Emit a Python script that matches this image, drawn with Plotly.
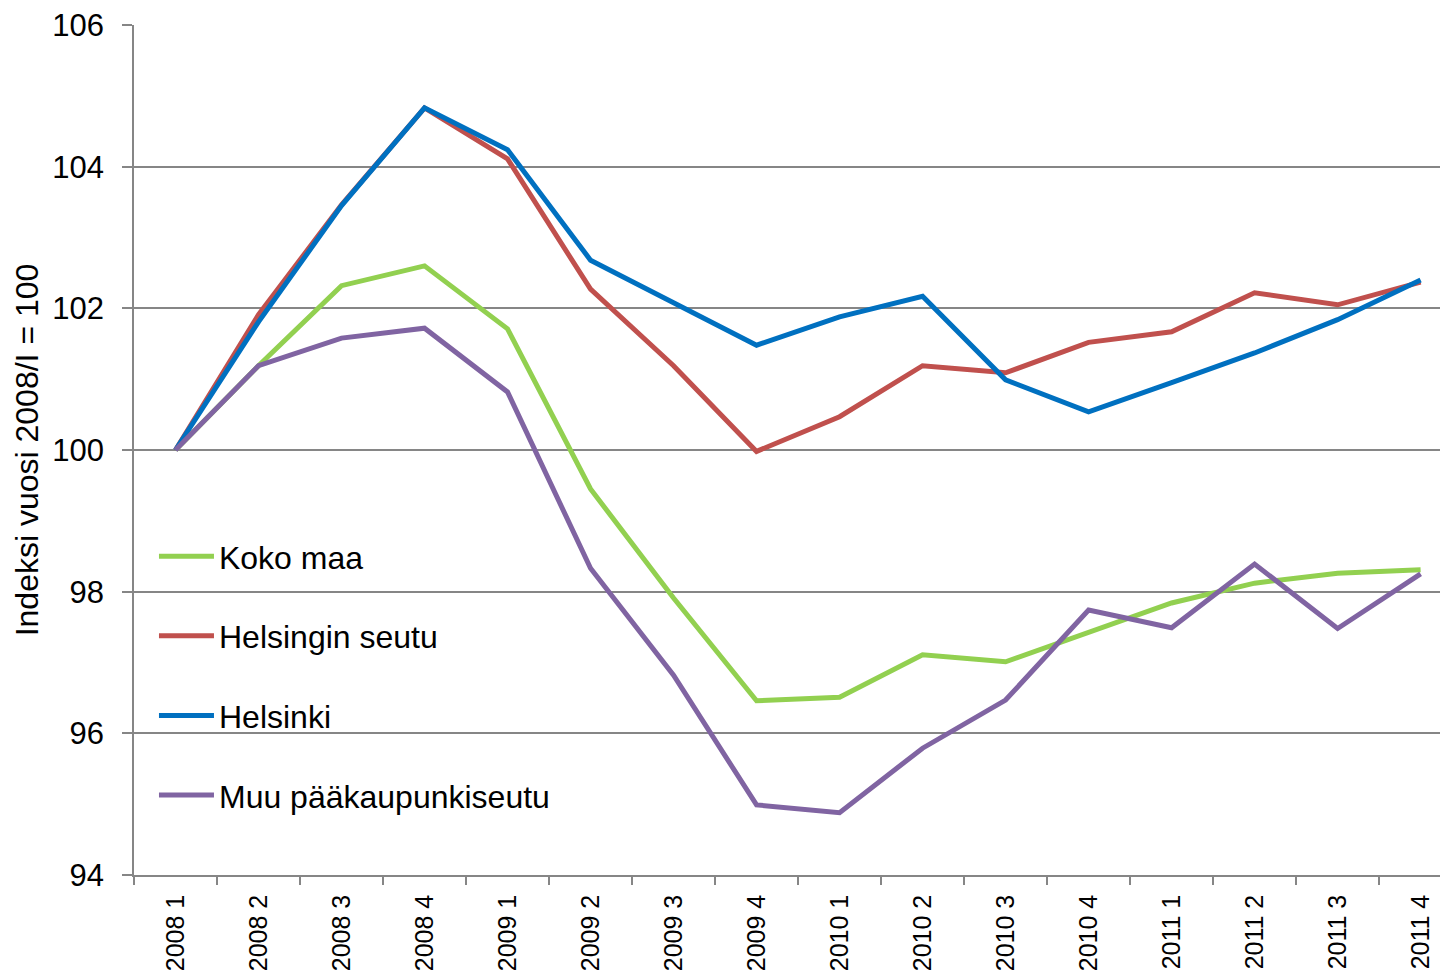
import plotly.graph_objects as go

quarters = ["2008 1", "2008 2", "2008 3", "2008 4", "2009 1", "2009 2", "2009 3", "2009 4",
            "2010 1", "2010 2", "2010 3", "2010 4", "2011 1", "2011 2", "2011 3", "2011 4"]

koko_maa = [100.0, 101.19, 102.32, 102.6, 101.71, 99.45, 97.91, 96.46,
            96.51, 97.11, 97.01, 97.42, 97.84, 98.12, 98.26, 98.31]
helsingin_seutu = [100.0, 101.91, 103.46, 104.83, 104.11, 102.27, 101.19, 99.98,
                   100.47, 101.19, 101.09, 101.52, 101.67, 102.22, 102.05, 102.37]
helsinki = [100.0, 101.81, 103.45, 104.83, 104.24, 102.68, 102.08, 101.48,
            101.88, 102.17, 100.99, 100.54, 100.95, 101.37, 101.84, 102.4]
muu_pks = [100.0, 101.19, 101.58, 101.72, 100.82, 98.33, 96.82, 94.99,
           94.88, 95.79, 96.47, 97.74, 97.49, 98.39, 97.48, 98.25]

series = [
    ("Koko maa", koko_maa, "#92D050"),
    ("Helsingin seutu", helsingin_seutu, "#C0504D"),
    ("Helsinki", helsinki, "#0070C0"),
    ("Muu pääkaupunkiseutu", muu_pks, "#8064A2"),
]

fig = go.Figure()
for i, (name, vals, color) in enumerate(series):
    fig.add_trace(go.Scatter(x=quarters, y=vals, name=name, mode="lines",
                             line=dict(color=color, width=5),
                             legendgroup=str(i), cliponaxis=False))

grid = "#868686"
fig.update_layout(
    width=1440, height=965,
    paper_bgcolor="white", plot_bgcolor="white",
    margin=dict(l=126, r=0, t=17, b=98),
    font=dict(family="Liberation Sans, Arial, sans-serif", color="black"),
    showlegend=True,
    legend=dict(x=0.0152, y=0.4071, xanchor="left", yanchor="top",
                font=dict(size=32), bgcolor="rgba(0,0,0,0)",
                traceorder="grouped", tracegroupgap=35,
                itemwidth=55),
    xaxis=dict(type="category", range=[-0.5, 15.33], tickangle=-90,
               tickfont=dict(size=25), showgrid=False, automargin=False,
               showline=True, linecolor=grid, linewidth=1.5,
               ticks="outside", tickson="boundaries", ticklen=8,
               tickcolor=grid, tickwidth=1.5, ticklabelstandoff=8,
               ticklabeloverflow="allow"),
    yaxis=dict(range=[94, 106.0001], tickvals=[94, 96, 98, 100, 102, 104, 106],
               ticktext=["94", "96", "98", "100", "102", "104", "106"],
               tickfont=dict(size=31), ticklabeloverflow="allow",
               showgrid=True, gridcolor=grid, gridwidth=1.5, automargin=False,
               showline=True, linecolor=grid, linewidth=1.5,
               ticks="outside", ticklen=10, tickcolor=grid, tickwidth=1.5,
               zeroline=False, ticklabelstandoff=12,
               title=dict(text="Indeksi vuosi 2008/I = 100", font=dict(size=32),
                          standoff=4)),
)

fig.write_html("out.html")
